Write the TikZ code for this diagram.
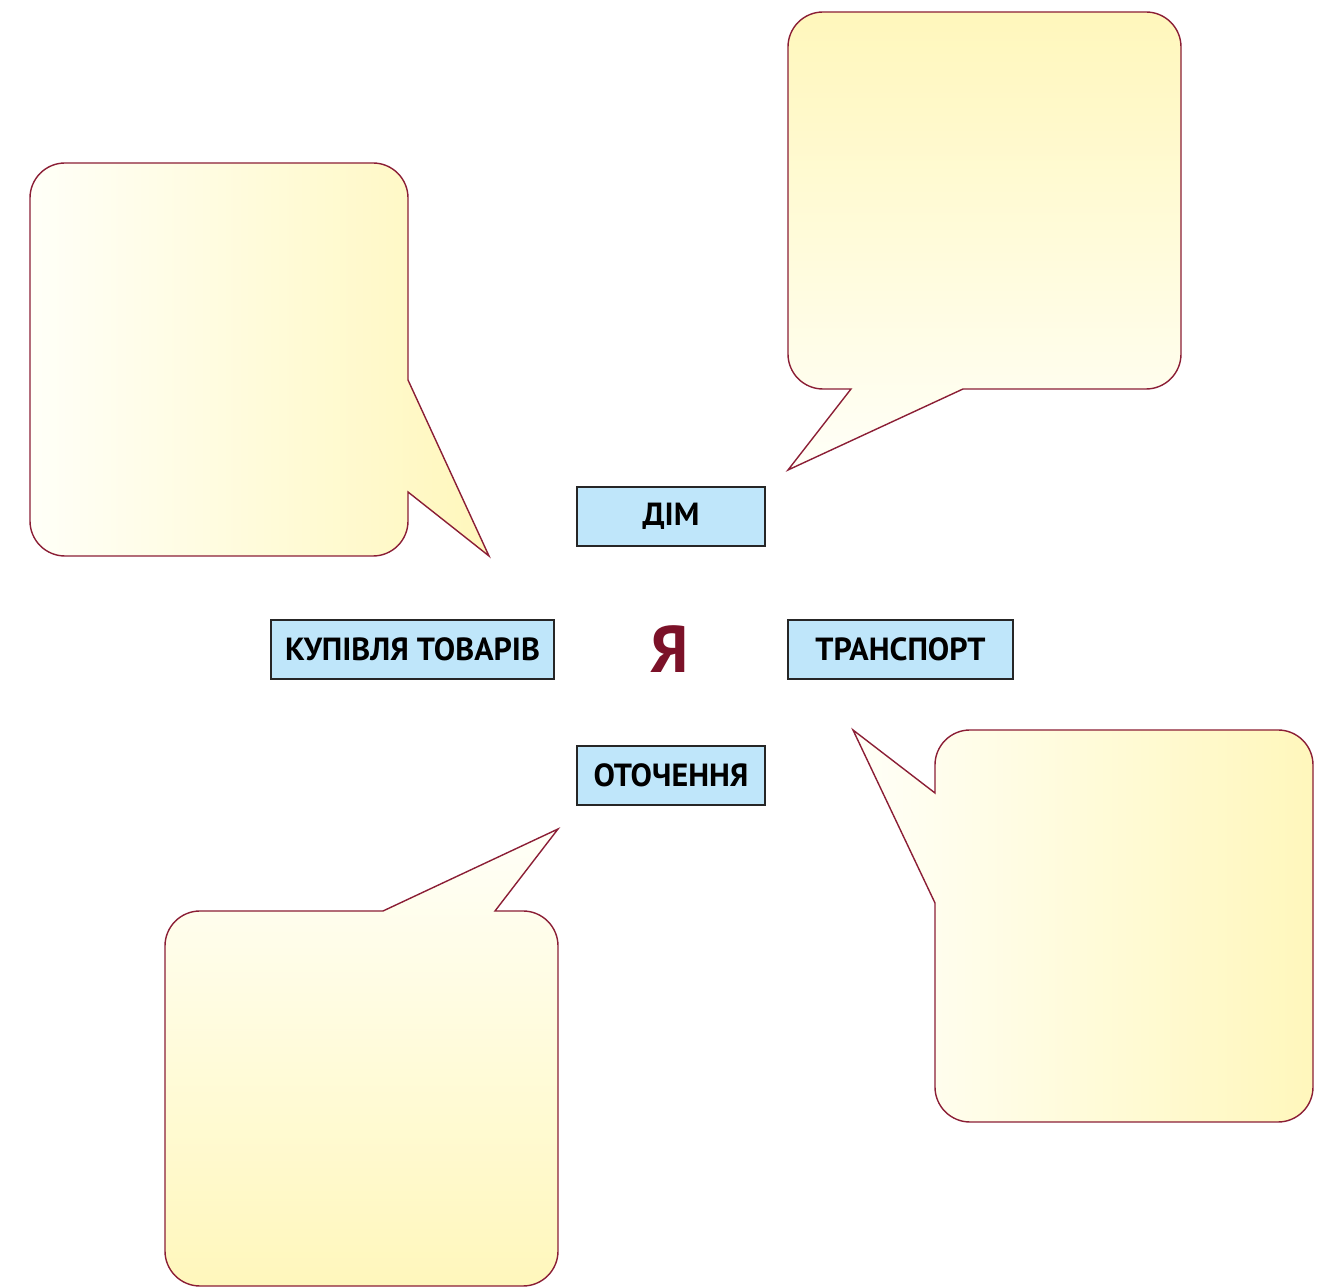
\documentclass[tikz,border=0pt]{standalone}
\usepackage{fontspec}
\setmainfont{PT Sans}
\definecolor{callstroke}{HTML}{8B1E35}
\definecolor{callyellow}{HTML}{FFF7BC}
\definecolor{callwhite}{HTML}{FFFFF8}
\definecolor{labelfill}{HTML}{BFE6FA}
\definecolor{yacolor}{HTML}{7B1128}
\begin{document}
\begin{tikzpicture}[x=0.5pt,y=0.5pt,
  callout/.style={draw=callstroke, line width=0.7pt, line join=miter},
  labelbox/.style={draw=black!85, line width=0.6pt, fill=labelfill, inner sep=0pt,
    minimum height=29.5pt, font=\fontsize{16pt}{19pt}\selectfont\bfseries, text=black}
]
\useasboundingbox (0,0) rectangle (1335,1287);

% top-right callout (gradient top yellow -> bottom white)
\path[callout, top color=callyellow, bottom color=callwhite]
  (823,1275) -- (1146,1275) arc[start angle=90,end angle=0,radius=35]
  -- (1181,933) arc[start angle=0,end angle=-90,radius=35]
  -- (963,898) -- (788,817) -- (851,898)
  -- (823,898) arc[start angle=-90,end angle=-180,radius=35]
  -- (788,1240) arc[start angle=180,end angle=90,radius=35] -- cycle;

% top-left callout (gradient left white -> right yellow)
\path[callout, left color=callwhite, right color=callyellow]
  (65,1124) -- (373,1124) arc[start angle=90,end angle=0,radius=35]
  -- (408,907) -- (489,731) -- (408,795)
  -- (408,766) arc[start angle=0,end angle=-90,radius=35]
  -- (65,731) arc[start angle=-90,end angle=-180,radius=35]
  -- (30,1089) arc[start angle=180,end angle=90,radius=35] -- cycle;

% bottom-right callout (gradient left white -> right yellow)
\path[callout, left color=callwhite, right color=callyellow]
  (970,557) -- (1278,557) arc[start angle=90,end angle=0,radius=35]
  -- (1313,200) arc[start angle=0,end angle=-90,radius=35]
  -- (970,165) arc[start angle=-90,end angle=-180,radius=35]
  -- (935,384) -- (853,557) -- (935,494)
  -- (935,522) arc[start angle=180,end angle=90,radius=35] -- cycle;

% bottom-left callout (gradient top white -> bottom yellow)
\path[callout, top color=callwhite, bottom color=callyellow]
  (200,376) -- (383,376) -- (558,458) -- (495,376)
  -- (523,376) arc[start angle=90,end angle=0,radius=35]
  -- (558,36) arc[start angle=0,end angle=-90,radius=35]
  -- (200,1) arc[start angle=-90,end angle=-180,radius=35]
  -- (165,341) arc[start angle=180,end angle=90,radius=35] -- cycle;

% labels
\node[labelbox, minimum width=94pt] (dim) at (671,770.5) {ДІМ};
\node[labelbox, minimum width=141.5pt] (kupivlya) at (412.5,637.5) {КУПІВЛЯ ТОВАРІВ};
\node[labelbox, minimum width=112.5pt] (transport) at (900.5,637.5) {ТРАНСПОРТ};
\node[labelbox, minimum width=94pt] (otochennya) at (671,511.5) {ОТОЧЕННЯ};

\node[text=yacolor, font=\fontsize{33pt}{36pt}\selectfont\bfseries, inner sep=0pt] (ya) at (670,637.5) {Я};
\end{tikzpicture}
\end{document}
